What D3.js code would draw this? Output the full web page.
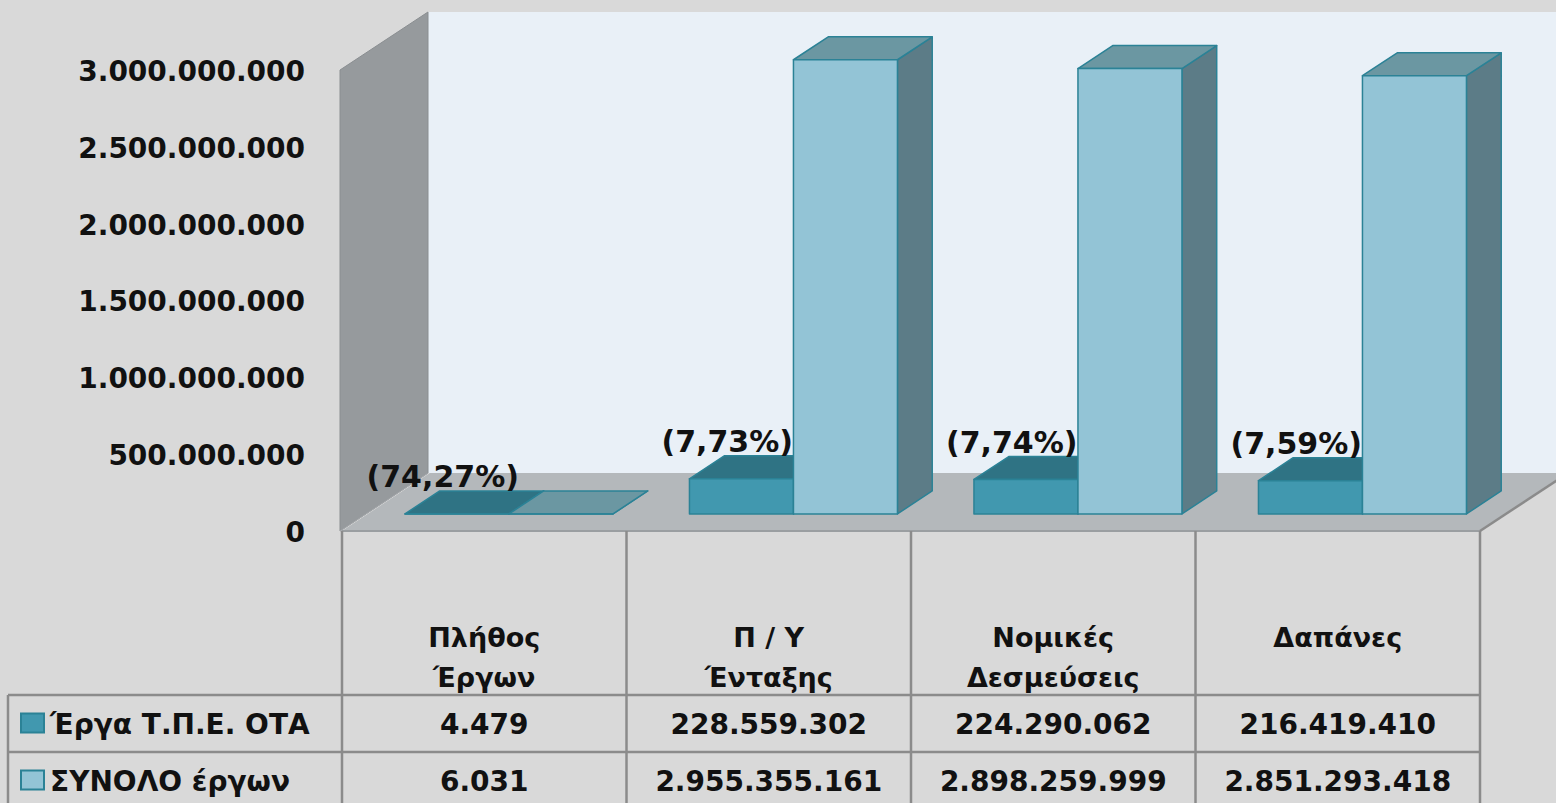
<!DOCTYPE html>
<html>
<head>
<meta charset="utf-8">
<script src="https://cdn.jsdelivr.net/npm/d3@7"></script>
<style>
  body { margin: 0; background: #d9d9d9; }
  svg { display: block; }
  text { font-family: "DejaVu Sans", sans-serif; font-weight: bold; fill: #111; }
</style>
</head>
<body>
<div id="chart"></div>
<script>
// data
var categories = ["Πλήθος Έργων", "Π / Υ Ένταξης", "Νομικές Δεσμεύσεις", "Δαπάνες"];
var categoryLines = [["Πλήθος", "Έργων"], ["Π / Υ", "Ένταξης"], ["Νομικές", "Δεσμεύσεις"], ["Δαπάνες"]];
var seriesNames = ["Έργα Τ.Π.Ε. ΟΤΑ", "ΣΥΝΟΛΟ έργων"];
var otaValues = [4479, 228559302, 224290062, 216419410];
var totalValues = [6031, 2955355161, 2898259999, 2851293418];
var shareLabels = ["(74,27%)", "(7,73%)", "(7,74%)", "(7,59%)"];
var yTicks = [0, 500000000, 1000000000, 1500000000, 2000000000, 2500000000, 3000000000];

var width = 1556, height = 803;
var plotLeft = 342, plotRight = 1480, plotBase = 531, plotTop = 70;
var depthX = 88, depthY = -58;      // full depth of the 3d box
var d0 = 0.295, d1 = 0.69;          // depth where the bars sit

var locale = d3.formatLocale({decimal: ",", thousands: ".", grouping: [3], currency: ["€", ""]});
var fmt = locale.format(",d");

var svg = d3.select("#chart").append("svg")
    .attr("width", width)
    .attr("height", height);

var x = d3.scaleBand().domain(categories).range([plotLeft, plotRight]);
var xs = d3.scaleBand().domain(seriesNames).range([37, 245]);
var y = d3.scaleLinear().domain([0, 3000000000]).range([plotBase, plotTop]);

function P(px, py, d) { return [px + d * depthX, py + d * depthY]; }
function poly(pts) { return pts.map(function(p) { return p.join(","); }).join(" "); }

// back wall
svg.append("rect")
    .attr("x", plotLeft + depthX - 2).attr("y", plotTop + depthY)
    .attr("width", width).attr("height", plotBase - plotTop)
    .style("fill", "#e9f0f7");

// left wall
svg.append("polygon")
    .attr("points", poly([P(plotLeft - 2, plotTop, 0), P(plotLeft - 2, plotTop, 1), P(plotLeft - 2, plotBase, 1), P(plotLeft - 2, plotBase, 0)]))
    .style("fill", "#969a9d")
    .style("stroke", "#8a8e91").style("stroke-width", 1);

// floor
svg.append("polygon")
    .attr("points", poly([P(plotLeft, plotBase, 0), P(plotRight, plotBase, 0), P(plotRight, plotBase, 1), P(plotLeft, plotBase, 1)]))
    .style("fill", "#b4b8bb");
svg.append("line")
    .attr("x1", plotLeft).attr("y1", plotBase).attr("x2", plotRight).attr("y2", plotBase)
    .style("stroke", "#9a9ea1").style("stroke-width", 2);
svg.append("line")
    .attr("x1", P(plotLeft - 2, plotBase, 0)[0]).attr("y1", plotBase)
    .attr("x2", P(plotLeft - 2, plotBase, 1)[0]).attr("y2", P(plotLeft, plotBase, 1)[1])
    .style("stroke", "#a4a8ab").style("stroke-width", 1);

// y axis labels
var yAxis = svg.append("g")
    .attr("transform", "translate(305,0)")
    .call(d3.axisLeft(y).tickValues(yTicks).tickSize(0).tickPadding(0).tickFormat(fmt));
yAxis.select(".domain").remove();
yAxis.selectAll("text")
    .attr("dy", "0.37em")
    .style("font-size", "28px")
    .style("font-family", "DejaVu Sans, sans-serif")
    .style("font-weight", "bold")
    .style("fill", "#111");

// bars
var colors = [
    {front: "#4198af", top: "#2f7384", side: "#2f6f80", stroke: "#2b8296"},
    {front: "#93c4d6", top: "#6b97a2", side: "#5c7c87", stroke: "#2b8296"}
];
var seriesValues = [otaValues, totalValues];

categories.forEach(function(cat, i) {
    seriesNames.forEach(function(s, k) {
        var v = seriesValues[k][i];
        var xl = x(cat) + xs(s), xr = xl + xs.bandwidth();
        var yb = y(0), yt = y(v);
        var c = colors[k];
        var g = svg.append("g")
            .style("stroke", c.stroke).style("stroke-width", 1.5).style("stroke-linejoin", "round");
        g.append("polygon")
            .attr("points", poly([P(xr, yt, d0), P(xr, yt, d1), P(xr, yb, d1), P(xr, yb, d0)]))
            .style("fill", c.side);
        g.append("polygon")
            .attr("points", poly([P(xl, yt, d0), P(xr, yt, d0), P(xr, yt, d1), P(xl, yt, d1)]))
            .style("fill", c.top);
        g.append("polygon")
            .attr("points", poly([P(xl, yt, d0), P(xr, yt, d0), P(xr, yb, d0), P(xl, yb, d0)]))
            .style("fill", c.front);
    });
});

// share labels above the first series
svg.selectAll(".share")
    .data(categories)
    .enter()
    .append("text")
    .attr("class", "share")
    .attr("x", function(d) { return P(x(d) + xs(seriesNames[0]), 0, d1)[0] + 3; })
    .attr("y", function(d, i) { return P(0, y(otaValues[i]), d1)[1] - 15; })
    .attr("dy", "0.37em")
    .attr("text-anchor", "middle")
    .style("font-size", "30px")
    .text(function(d, i) { return shareLabels[i]; });

// data table
var rowTop = 695, rowH = 57, tableLeft = 8;
var lineStyle = function(sel) { return sel.style("stroke", "#8b8b8b").style("stroke-width", 2.5); };
var tbl = svg.append("g");

// right side edge of the box
tbl.append("line")
    .attr("x1", plotRight).attr("y1", plotBase)
    .attr("x2", P(plotRight, plotBase, 1)[0]).attr("y2", P(plotRight, plotBase, 1)[1])
    .call(lineStyle);

var cols = x.domain().map(function(d) { return x(d); }).concat([plotRight]);
cols.forEach(function(cx) {
    tbl.append("line").attr("x1", cx).attr("x2", cx).attr("y1", plotBase).attr("y2", height).call(lineStyle);
});
tbl.append("line").attr("x1", tableLeft).attr("x2", tableLeft).attr("y1", rowTop).attr("y2", height).call(lineStyle);
[rowTop, rowTop + rowH].forEach(function(ry) {
    tbl.append("line").attr("x1", tableLeft).attr("x2", plotRight).attr("y1", ry).attr("y2", ry).call(lineStyle);
});

// category headers
categories.forEach(function(cat, i) {
    categoryLines[i].forEach(function(line, j) {
        tbl.append("text")
            .attr("x", x(cat) + x.bandwidth() / 2)
            .attr("y", 637 + j * 40)
            .attr("dy", "0.37em")
            .attr("text-anchor", "middle")
            .style("font-size", "27px")
            .text(line);
    });
});

// rows
seriesNames.forEach(function(s, k) {
    var cy = rowTop + rowH * k + rowH / 2;
    tbl.append("rect")
        .attr("x", 21).attr("y", cy - 10).attr("width", 23).attr("height", 19)
        .style("fill", colors[k].front)
        .style("stroke", colors[k].stroke).style("stroke-width", 2);
    tbl.append("text")
        .attr("x", 50).attr("y", cy)
        .attr("dy", "0.37em")
        .style("font-size", "28px")
        .text(s);
    categories.forEach(function(cat, i) {
        tbl.append("text")
            .attr("x", x(cat) + x.bandwidth() / 2)
            .attr("y", cy)
            .attr("dy", "0.37em")
            .attr("text-anchor", "middle")
            .style("font-size", "28px")
            .text(fmt(seriesValues[k][i]));
    });
});
</script>
</body>
</html>
